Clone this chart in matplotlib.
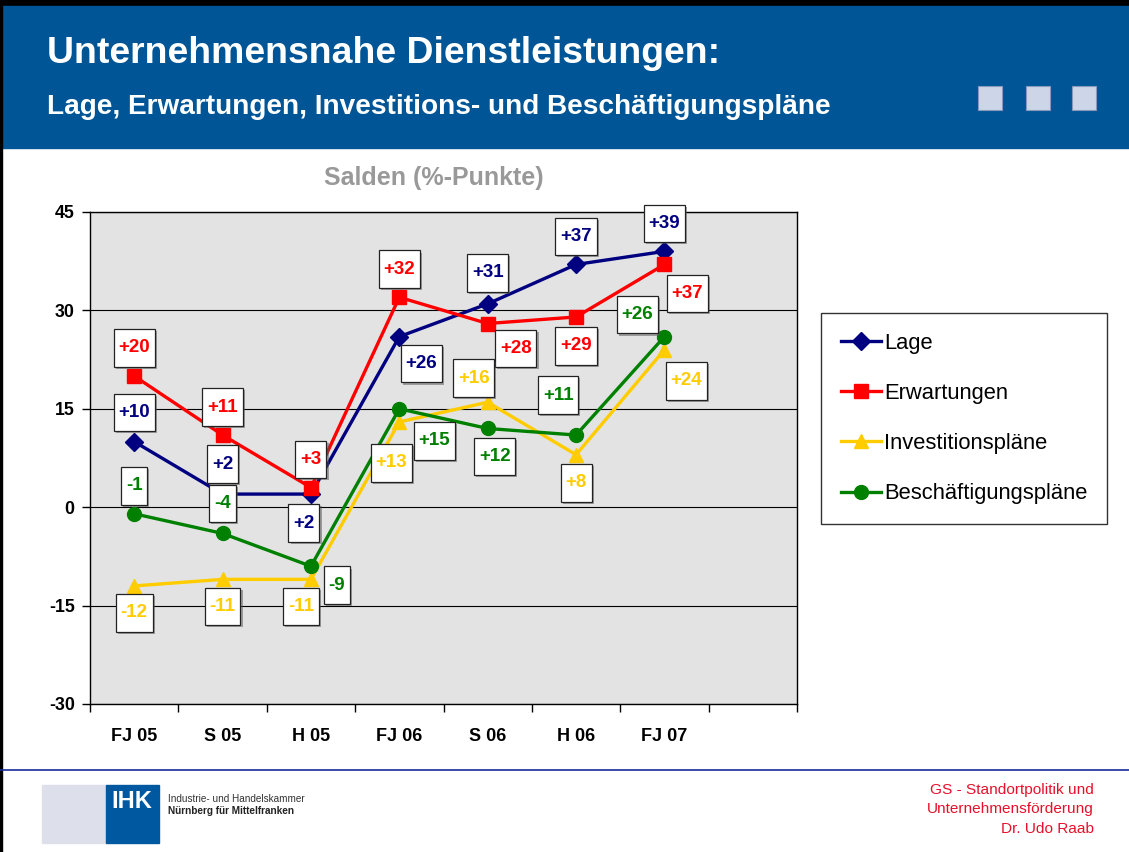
import matplotlib
matplotlib.use("Agg")
import matplotlib.pyplot as plt
import matplotlib.patheffects as pe
from matplotlib.patches import Rectangle
from matplotlib.path import Path

# data
categories = ["FJ 05", "S 05", "H 05", "FJ 06", "S 06", "H 06", "FJ 07"]
lage = [10, 2, 2, 26, 31, 37, 39]
erwartungen = [20, 11, 3, 32, 28, 29, 37]
investitionen = [-12, -11, -11, 13, 16, 8, 24]
beschaeftigung = [-1, -4, -9, 15, 12, 11, 26]
yticks = [-30, -15, 0, 15, 30, 45]

# label offsets in pixels (dx, dy), one per point
off_lage = [(0, 29), (0, 30), (-7, -29), (22, -27), (0, 31), (0, 28), (0, 28)]
off_erw = [(0, 28), (0, 28), (0, 28), (0, 28), (28, -25), (0, -29), (23, -29)]
off_inv = [(0, -27), (0, -27), (-10, -27), (-8, -41), (-14, 24), (0, -28), (22, -31)]
off_bes = [(0, 28), (0, 30), (26, -19), (35, -32), (7, -28), (-18, 40), (-27, 22)]

series = [
    ("Lage", lage, "#000080", "D", 9, off_lage),
    ("Erwartungen", erwartungen, "#ff0000", "s", 10, off_erw),
    ("Investitionspläne", investitionen, "#ffcc00", "^", 10, off_inv),
    ("Beschäftigungspläne", beschaeftigung, "#008000", "o", 10, off_bes),
]


def label_box(x0, y0, width, height, mutation_size):
    # taller than wide padding, like the boxes in the slide
    px = 0.26 * mutation_size
    py = 0.55 * mutation_size
    x0, y0 = x0 - px, y0 - py
    x1, y1 = x0 + width + 2 * px, y0 + height + 2 * py
    return Path([(x0, y0), (x1, y0), (x1, y1), (x0, y1), (x0, y0)], closed=True)


plt.rcParams["font.family"] = ["Liberation Sans", "DejaVu Sans"]

fig = plt.figure(figsize=(11.29, 8.52), dpi=100)

# slide background in pixel coordinates
bg = fig.add_axes([0, 0, 1, 1], zorder=0)
bg.set_xlim(0, 1129)
bg.set_ylim(852, 0)
bg.axis("off")
bg.add_patch(Rectangle((0, 0), 1129, 6, color="black"))
bg.add_patch(Rectangle((0, 6), 1129, 142, color="#005596"))
bg.add_patch(Rectangle((0, 0), 2, 852, color="black"))
bg.text(47, 63, "Unternehmensnahe Dienstleistungen:", color="white",
        fontsize=26.9, fontweight="bold", va="baseline", ha="left")
bg.text(47, 114, "Lage, Erwartungen, Investitions- und Beschäftigungspläne",
        color="white", fontsize=20.2, fontweight="bold", va="baseline", ha="left")
for x0 in (978, 1026, 1072):
    bg.add_patch(Rectangle((x0, 86), 24, 24, facecolor="#ccd6e8",
                           edgecolor="#8899bb", linewidth=0.8))

bg.plot([0, 1129], [770, 770], color="#1a2a9a", linewidth=1.2)
bg.add_patch(Rectangle((42, 785), 64, 58, color="#dde0ea"))
bg.add_patch(Rectangle((106, 785), 53, 58, color="#0058a0"))
bg.text(132, 801, "IHK", color="white", fontsize=17, fontweight="bold",
        ha="center", va="center")
bg.text(168, 799, "Industrie- und Handelskammer", fontsize=7.2, color="#333333",
        ha="left", va="center")
bg.text(168, 811, "Nürnberg für Mittelfranken", fontsize=7.2, fontweight="bold",
        color="#222222", ha="left", va="center")
for i, line in enumerate(["GS - Standortpolitik und", "Unternehmensförderung",
                          "Dr. Udo Raab"]):
    bg.text(1094, 790 + 19.5 * i, line, color="#e8102a", fontsize=11.1,
            ha="right", va="center")
bg.text(434, 178, "Salden (%-Punkte)", color="#999999", fontsize=18,
        fontweight="bold", ha="center", va="center")

# chart
ax = fig.add_axes([90 / 1129, 1 - 704 / 852, 707 / 1129, 492 / 852], zorder=1)
ax.set_facecolor("#e3e3e3")
ax.set_xlim(0, 8)
ax.set_ylim(-30, 45)
ax.set_yticks(yticks)
ax.set_yticklabels([str(v) for v in yticks], fontsize=12.8, fontweight="bold")
ax.set_xticks(range(9))
ax.set_xticklabels([])
ax.set_xticks([i + 0.5 for i in range(len(categories))], minor=True)
ax.set_xticklabels(categories, minor=True, fontsize=13, fontweight="bold")
ax.tick_params(axis="x", which="minor", length=0, pad=17)
ax.tick_params(axis="both", which="major", length=6, width=1, direction="out")
ax.tick_params(axis="y", pad=5)
for sp in ax.spines.values():
    sp.set_linewidth(1)
ax.grid(axis="y", color="black", linewidth=0.8)
ax.set_axisbelow(True)

xs = [i + 0.5 for i in range(len(categories))]
shadow = [pe.SimplePatchShadow(offset=(1.5, -1.5), shadow_rgbFace="#555555",
                               alpha=0.5), pe.Normal()]
for name, vals, color, marker, ms, offs in series:
    ax.plot(xs, vals, color=color, linewidth=2.4, marker=marker, markersize=ms,
            label=name, zorder=3)
    for x, v, (dx, dy) in zip(xs, vals, offs):
        ann = ax.annotate(f"{v:+d}", (x, v), xytext=(dx, dy),
                          textcoords="offset pixels", ha="center", va="center",
                          fontsize=13.5, fontweight="bold", color=color, zorder=5,
                          bbox=dict(boxstyle=label_box, facecolor="white",
                                    edgecolor="#222222", linewidth=0.9))
        ann.get_bbox_patch().set_path_effects(shadow)

leg = fig.legend(loc="upper left", bbox_to_anchor=(821 / 1129, 1 - 313 / 852),
                 fontsize=15.8, frameon=True, fancybox=False, edgecolor="black",
                 handlelength=1.85, handletextpad=0.12, labelspacing=1.33,
                 borderpad=0.9, borderaxespad=0)
leg.get_frame().set_linewidth(1)

fig.savefig("out.png", dpi=100)
